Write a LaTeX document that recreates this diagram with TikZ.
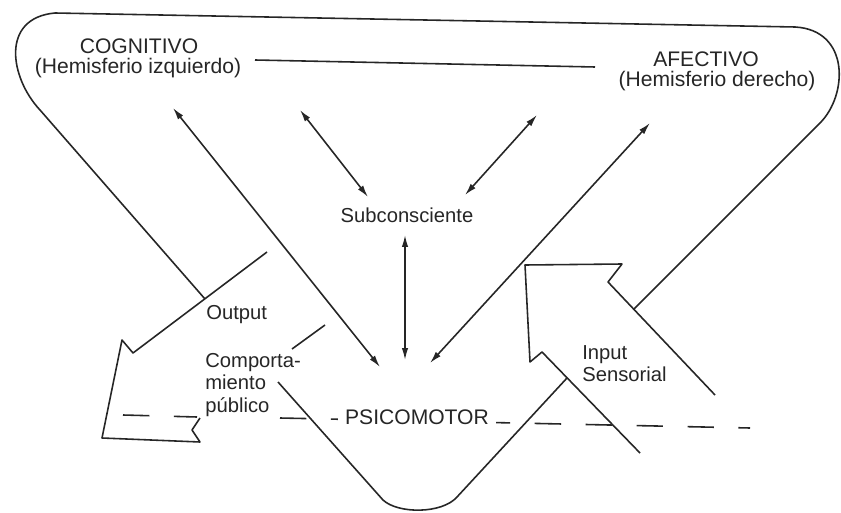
\documentclass[tikz,border=0pt]{standalone}
\usepackage{fontspec}
\setmainfont{Liberation Sans}
\usetikzlibrary{arrows.meta}
\begin{document}
\begin{tikzpicture}[x=0.02cm,y=-0.02cm,
  linea/.style={line width=0.9pt,draw=black!85,line join=round},
  doble/.style={linea,{Latex[length=2.4mm,width=1.3mm]}-{Latex[length=2.4mm,width=1.3mm]}},
  titulo/.style={font=\fontsize{12}{14}\selectfont,text=black!85,inner sep=0pt},
  etiq/.style={font=\fontsize{11.5}{12.8}\selectfont,text=black!85,align=left,inner sep=0pt}]
\useasboundingbox[fill=white] (0,0) rectangle (841,513);
% labels
\node[titulo] (cogT) at (139,46) {COGNITIVO};
\node[titulo] (cogS) at (138,68) {(Hemisferio izquierdo)};
\node[titulo] (afeT) at (706,59) {AFECTIVO};
\node[titulo] (afeS) at (717,81) {(Hemisferio derecho)};
\node[etiq] (sub) at (407,215) {Subconsciente};
\node[etiq,anchor=base west] (out) at (206,319) {Output};
\node[etiq,anchor=north west] (comp) at (205,353) {Comporta-\\miento\\público};
\node[etiq,anchor=north west] (inp) at (582,345) {Input\\Sensorial};
% free ends
\coordinate (hemL) at (255,60);
\coordinate (hemR) at (595,67);
\coordinate (cogA) at (173,108);
\coordinate (cogB) at (300,110);
\coordinate (afeA) at (537,115);
\coordinate (afeB) at (650,123);
\coordinate (subL) at (368,197);
\coordinate (subR) at (465,195);
\coordinate (subD) at (405,235);
\coordinate (psiA) at (380,367);
\coordinate (psiB) at (405,360);
\coordinate (psiC) at (430,363);
% outline
\draw[linea] (205,299) -- (40,110) .. controls (10,78) and (0,18) .. (55,13)
  -- (795,27) .. controls (850,30) and (848,95) .. (820,123) -- (634,309);
\draw[linea] (278,382) -- (383,500) .. controls (398,514) and (442,514) .. (457,497) -- (567,378);
% output arrow
\draw[linea] (267,252) -- (133,353) -- (122,340) -- (102,438) -- (200,442)
  -- (192,430) -- (200,418);
\draw[linea] (292,349) -- (325,325);
% input arrow
\draw[linea] (715,395) -- (608,282) -- (622,264) -- (525,265) -- (530,362)
  -- (542,352) -- (640,453);
% connectors
\draw[linea] (hemL) -- (hemR);
\draw[doble] (cogA) -- (psiA);
\draw[doble] (cogB) -- (subL);
\draw[doble] (afeA) -- (subR);
\draw[doble] (afeB) -- (psiC);
\draw[doble] (subD) -- (psiB);
% psicomotor
\draw[linea,dash pattern=on 15 off 14] (123,415) -- (197,417);
\draw[linea,dash pattern=on 15 off 14] (280,418) -- (750,428);
\node[titulo,fill=white,inner sep=4pt] (psi) at (417,417) {PSICOMOTOR};
\end{tikzpicture}
\end{document}
